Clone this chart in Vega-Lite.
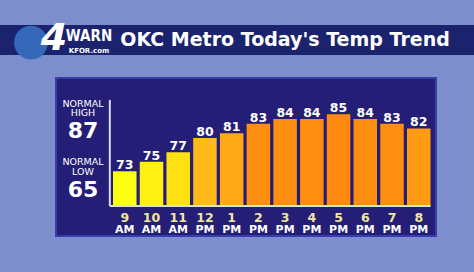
{
  "$schema": "https://vega.github.io/schema/vega-lite/v6.json",
  "background": "#7c8ecb",
  "padding": {"left": 0, "top": 19, "right": 0, "bottom": 37},
  "spacing": 14,
  "config": {
    "view": {"stroke": null},
    "axis": {"grid": false},
    "text": {"font": "DejaVu Sans"}
  },
  "vconcat": [
    {
      "width": 474,
      "height": 30,
      "view": {"fill": "#1b236e", "stroke": null},
      "data": {"values": [{"title": "OKC Metro Today's Temp Trend", "logo": "4", "brand": "WARN", "site": "KFOR.com", "globe": "●"}]},
      "layer": [
        {"mark": {"type": "text", "fontSize": 44, "color": "#3568b8", "dx": -206, "dy": 1, "baseline": "middle"}, "encoding": {"text": {"field": "globe"}}},
        {"mark": {"type": "text", "fontSize": 38, "fontWeight": "bold", "fontStyle": "italic", "color": "white", "dx": -183, "dy": -1, "baseline": "middle"}, "encoding": {"text": {"field": "logo"}}},
        {"mark": {"type": "text", "font": "DejaVu Sans Condensed, Liberation Sans Narrow, Liberation Sans", "fontSize": 15, "fontWeight": "bold", "color": "white", "dx": -148, "dy": -4, "baseline": "middle"}, "encoding": {"text": {"field": "brand"}}},
        {"mark": {"type": "text", "fontSize": 7, "fontWeight": "bold", "color": "white", "dx": -148, "dy": 11, "baseline": "middle"}, "encoding": {"text": {"field": "site"}}},
        {"mark": {"type": "text", "fontSize": 19, "fontWeight": "bold", "color": "white", "dx": 48, "baseline": "middle"}, "encoding": {"text": {"field": "title"}}}
      ]
    },
    {
      "spacing": 54,
      "hconcat": [
        {
          "width": 1,
          "height": 158,
          "data": {"values": []},
          "mark": {"type": "point", "opacity": 0},
          "encoding": {}
        },
        {
          "width": 380,
          "height": 158,
          "view": {"fill": "#241e76", "stroke": "#3a3cae", "strokeWidth": 2},
          "data": {"values": [
            {"time": "9 AM", "temp": 73},
            {"time": "10 AM", "temp": 75},
            {"time": "11 AM", "temp": 77},
            {"time": "12 PM", "temp": 80},
            {"time": "1 PM", "temp": 81},
            {"time": "2 PM", "temp": 83},
            {"time": "3 PM", "temp": 84},
            {"time": "4 PM", "temp": 84},
            {"time": "5 PM", "temp": 85},
            {"time": "6 PM", "temp": 84},
            {"time": "7 PM", "temp": 83},
            {"time": "8 PM", "temp": 82}
          ]},
          "layer": [
            {
              "mark": {"type": "bar"},
              "encoding": {
                "x": {"field": "time", "type": "nominal", "sort": null,
                  "scale": {"domain": ["N", "9 AM", "10 AM", "11 AM", "12 PM", "1 PM", "2 PM", "3 PM", "4 PM", "5 PM", "6 PM", "7 PM", "8 PM"], "range": [30.3, 374.5], "paddingInner": 0.12, "paddingOuter": 0},
                  "axis": {"orient": "bottom", "offset": -30, "domain": false, "ticks": false, "tickSize": 0, "labelPadding": 5, "labelAngle": 0, "labelFont": "DejaVu Sans", "labelFontWeight": "bold", "labelFontSize": 12.5, "labelColor": "#f0e8a0", "labelExpr": "datum.value == 'N' ? '' : split(datum.value, ' ')[0]", "title": null}},
                "y": {"field": "temp", "type": "quantitative", "scale": {"domain": [59.4, 92.6], "zero": false, "nice": false}, "axis": null},
                "y2": {"datum": 65.7},
                "color": {"field": "temp", "type": "quantitative", "legend": null,
                  "scale": {"domain": [73, 75, 77, 80, 81, 83, 85], "range": ["#fbff14", "#ffef12", "#ffe012", "#ffba18", "#ffa818", "#ff8f10", "#ff8a0e"]}}
              }
            },
            {
              "mark": {"type": "text", "fontSize": 12.5, "fontWeight": "bold", "color": "white", "baseline": "alphabetic", "dy": -2},
              "encoding": {
                "x": {"field": "time", "type": "nominal", "sort": null,
                  "axis": {"orient": "bottom", "offset": -30, "domain": false, "ticks": false, "tickSize": 0, "labelPadding": 17, "labelAngle": 0, "labelFont": "DejaVu Sans", "labelFontWeight": "bold", "labelFontSize": 11, "labelColor": "white", "labelExpr": "datum.value == 'N' ? '' : split(datum.value, ' ')[1]", "title": null}},
                "y": {"field": "temp", "type": "quantitative", "scale": {"domain": [59.4, 92.6], "zero": false, "nice": false}, "axis": null},
                "text": {"field": "temp"}
              }
            },
            {
              "data": {"values": [{}]},
              "mark": {"type": "rule", "color": "#dcdcec", "strokeWidth": 2},
              "encoding": {
                "x": {"datum": "N", "bandPosition": 1, "axis": null},
                "y": {"datum": 88, "scale": {"domain": [59.4, 92.6], "zero": false, "nice": false}, "axis": null},
                "y2": {"datum": 65.7}
              }
            },
            {
              "data": {"values": [{}]},
              "mark": {"type": "rule", "color": "#dcdcec", "strokeWidth": 2},
              "encoding": {
                "x": {"datum": "N", "bandPosition": 1, "axis": null},
                "x2": {"datum": "8 PM", "bandPosition": 1},
                "y": {"datum": 65.7, "scale": {"domain": [59.4, 92.6], "zero": false, "nice": false}, "axis": null}
              }
            },
            {
              "data": {"values": [{"label": "NORMAL\nHIGH", "value": 87}, {"label": "NORMAL\nLOW", "value": 65}]},
              "layer": [
                {
                  "mark": {"type": "text", "fontSize": 22, "fontWeight": "bold", "color": "white", "baseline": "middle", "dy": 1},
                  "encoding": {
                    "x": {"datum": "N", "bandPosition": -0.14, "axis": null},
                    "y": {"field": "value", "type": "quantitative", "scale": {"domain": [47.3, 106.7], "zero": false, "nice": false}, "axis": null},
                    "text": {"field": "value"}
                  }
                },
                {
                  "mark": {"type": "text", "fontSize": 9.5, "color": "white", "baseline": "middle", "lineBreak": "\n", "lineHeight": 9.5, "dy": -26.5},
                  "encoding": {
                    "x": {"datum": "N", "bandPosition": -0.14, "axis": null},
                    "y": {"field": "value", "type": "quantitative", "scale": {"domain": [47.3, 106.7], "zero": false, "nice": false}, "axis": null},
                    "text": {"field": "label"}
                  }
                }
              ]
            }
          ],
          "resolve": {"axis": {"x": "independent"}, "scale": {"y": "independent"}}
        }
      ]
    }
  ]
}
